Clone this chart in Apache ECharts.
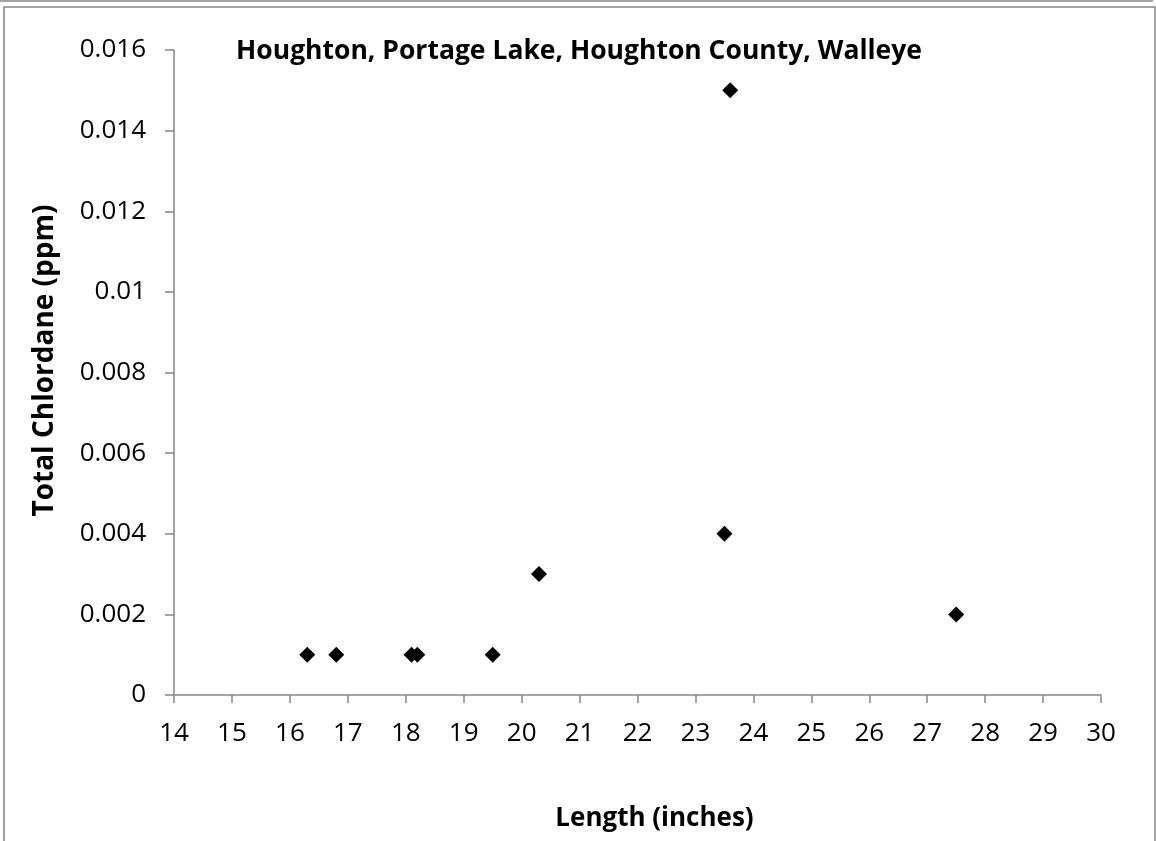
<!DOCTYPE html>
<html>
<head>
<meta charset="utf-8">
<script src="https://cdn.jsdelivr.net/npm/echarts@6/dist/echarts.min.js"></script>
<style>
html,body{margin:0;padding:0;background:#fff;}
#chart{width:1156px;height:841px;}
</style>
</head>
<body>
<div id="chart"></div>
<script>
const titleText = "Houghton, Portage Lake, Houghton County, Walleye";
const xName = "Length (inches)";
const yName = "Total Chlordane (ppm)";
const lengths = [16.3, 16.8, 18.1, 18.2, 19.5, 20.3, 23.5, 23.6, 27.5];
const chlordane = [0.001, 0.001, 0.001, 0.001, 0.001, 0.003, 0.004, 0.015, 0.002];
const xMin = 14, xMax = 30, xStep = 1;
const yMin = 0, yMax = 0.016, yStep = 0.002;

const font = "'Open Sans', 'Noto Sans', sans-serif";
const chart = echarts.init(document.getElementById('chart'), null, {renderer: 'canvas'});
const points = lengths.map((v, i) => [v, chlordane[i]]);
chart.setOption({
  animation: false,
  backgroundColor: '#fff',
  title: {
    text: titleText,
    left: 574, top: 33, textAlign: 'center',
    textStyle: {fontFamily: font, fontWeight: 'bold', fontSize: 26.5, color: '#000'}
  },
  grid: {left: 174, right: 55, top: 50, bottom: 146, containLabel: false},
  xAxis: {
    type: 'value', min: xMin, max: xMax, interval: xStep,
    name: xName, nameLocation: 'middle', nameGap: 111,
    nameTextStyle: {fontFamily: font, fontWeight: 'bold', fontSize: 26, color: '#000', padding: [0, 0, 0, 34]},
    axisLine: {show: true, lineStyle: {color: '#868686', width: 1.5}},
    axisTick: {show: true, inside: false, length: 8, lineStyle: {color: '#868686', width: 1.5}},
    axisLabel: {fontFamily: font, fontSize: 26, color: '#000', margin: 26},
    splitLine: {show: false}
  },
  yAxis: {
    type: 'value', min: yMin, max: yMax, interval: yStep,
    name: yName, nameLocation: 'middle', nameGap: 115, nameRotate: 90,
    nameTextStyle: {fontFamily: font, fontWeight: 'bold', fontSize: 28, color: '#000', padding: [0, 0, 0, 24]},
    axisLine: {show: true, onZero: false, lineStyle: {color: '#868686', width: 1.5}},
    axisTick: {show: true, inside: false, length: 9, lineStyle: {color: '#868686', width: 1.5}},
    axisLabel: {fontFamily: font, fontSize: 26, color: '#000', margin: 28,
      formatter: v => String(parseFloat(v.toFixed(6)))},
    splitLine: {show: false}
  },
  graphic: [
    {type: 'line', shape: {x1: 0, y1: 1, x2: 1153, y2: 1}, style: {stroke: '#868686', lineWidth: 1.5}},
    {type: 'rect', shape: {x: 4, y: 7, width: 1151, height: 860}, style: {fill: null, stroke: '#868686', lineWidth: 1.5}}
  ],
  series: [{
    type: 'scatter',
    data: points,
    symbol: 'diamond',
    symbolSize: 16,
    itemStyle: {color: '#000', opacity: 1}
  }]
});
</script>
</body>
</html>
